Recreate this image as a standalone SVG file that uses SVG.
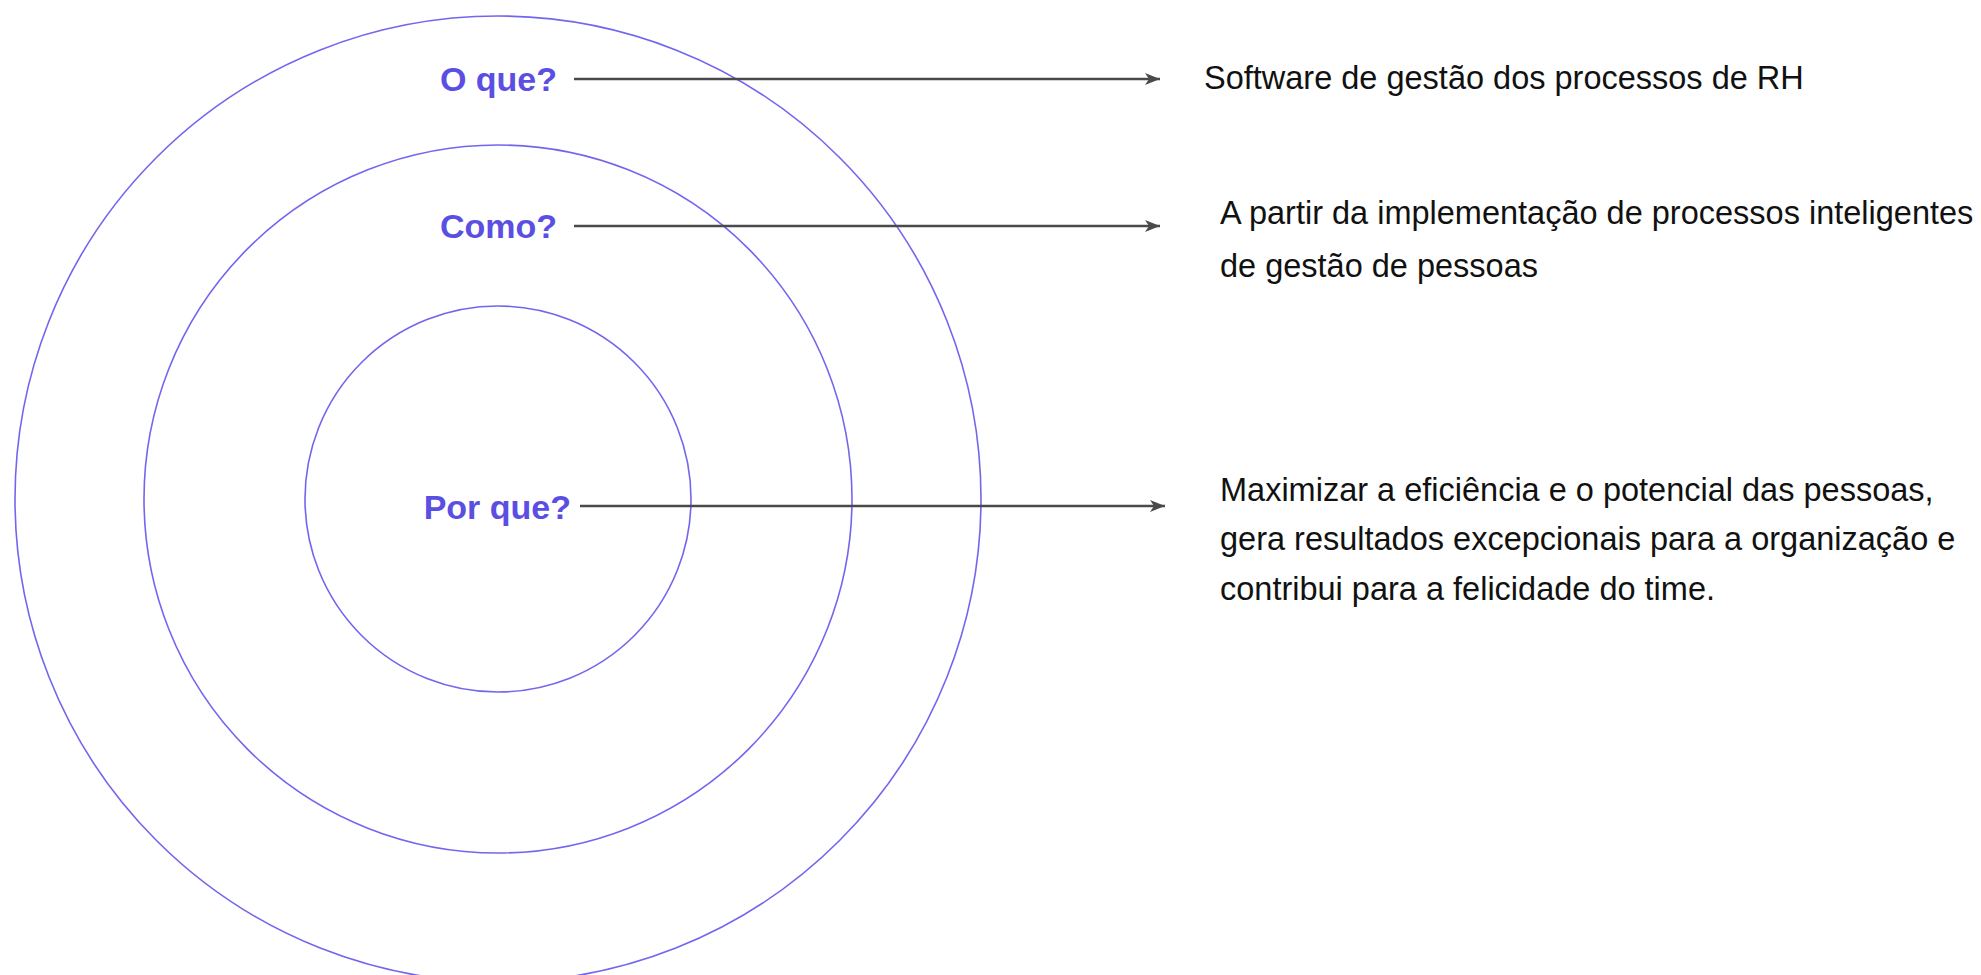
<svg xmlns="http://www.w3.org/2000/svg" width="1981" height="975" viewBox="0 0 1981 975">
<style>
.ring{fill:none;stroke:#7366ee;stroke-width:1.6}
.q{font-family:"Liberation Sans",Arial,sans-serif;font-weight:bold;font-size:34px;fill:#5b4fe3;text-anchor:end}
.t{font-family:"Liberation Sans",Arial,sans-serif;font-size:32.5px;fill:#111111}
.arr{stroke:#4a4a4a;stroke-width:2.5;fill:none;marker-end:url(#ah)}
</style>
<defs>
<marker id="ah" markerUnits="userSpaceOnUse" markerWidth="18" markerHeight="14" refX="15" refY="6" orient="auto">
<path d="M0,0 L15,6 L0,12 L4,6 z" fill="#4a4a4a"/>
</marker>
</defs>
<rect width="1981" height="975" fill="#ffffff"/>
<g id="circle-outer"><circle class="ring" cx="498" cy="499" r="483"/></g>
<g id="circle-middle"><circle class="ring" cx="498" cy="499" r="354"/></g>
<g id="circle-inner"><circle class="ring" cx="498" cy="499" r="193"/></g>
<g id="connectors">
<line class="arr" x1="574" y1="79" x2="1160" y2="79"/>
<line class="arr" x1="574" y1="226" x2="1160" y2="226"/>
<line class="arr" x1="580" y1="506" x2="1165" y2="506"/>
</g>
<g id="label-oque"><text class="q" x="557" y="91">O que?</text></g>
<g id="label-como"><text class="q" x="557" y="238">Como?</text></g>
<g id="label-porque"><text class="q" x="571" y="519">Por que?</text></g>
<g id="text-oque"><text class="t" x="1204" y="89">Software de gestão dos processos de RH</text></g>
<g id="text-como"><text class="t" x="1220" y="224">A partir da implementação de processos inteligentes</text>
<text class="t" x="1220" y="277">de gestão de pessoas</text></g>
<g id="text-porque"><text class="t" x="1220" y="501">Maximizar a eficiência e o potencial das pessoas,</text>
<text class="t" x="1220" y="550">gera resultados excepcionais para a organização e</text>
<text class="t" x="1220" y="600">contribui para a felicidade do time.</text></g>
</svg>
